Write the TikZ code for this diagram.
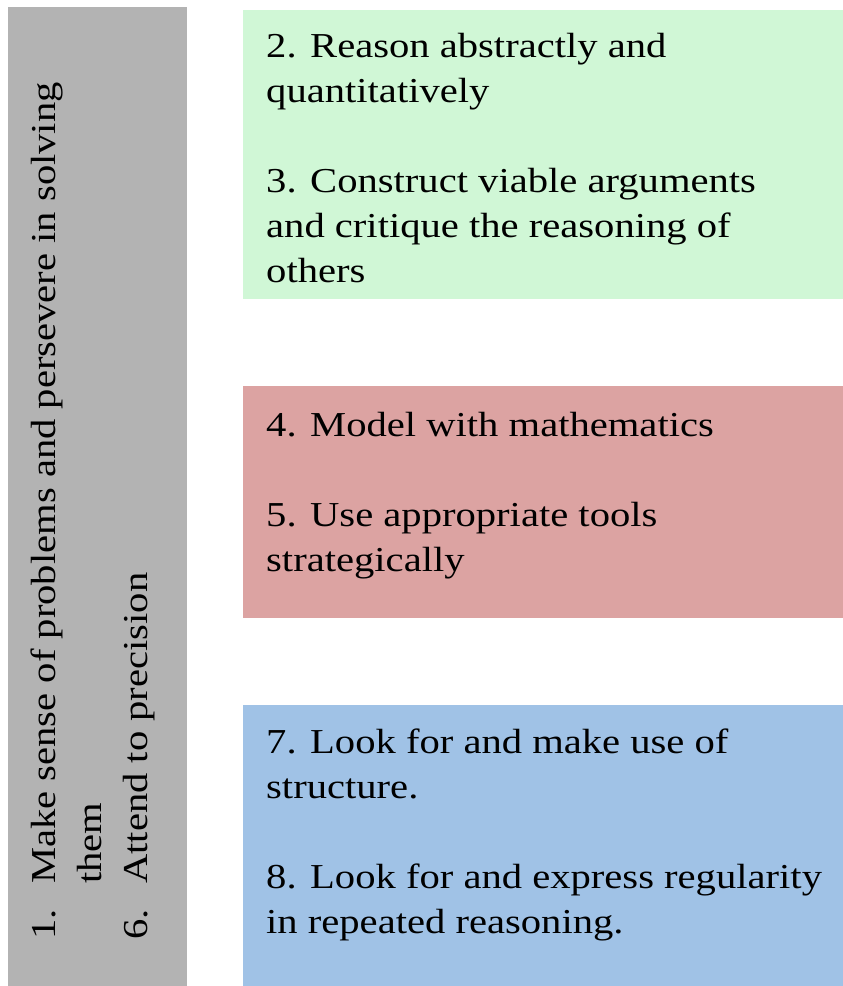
\documentclass[tikz,border=0pt]{standalone}
\usepackage{fontspec}
\setmainfont{Liberation Serif}[FakeStretch=1.16]
\definecolor{boxgray}{RGB}{179,179,179}
\definecolor{boxgreen}{RGB}{208,247,214}
\definecolor{boxred}{RGB}{220,163,162}
\definecolor{boxblue}{RGB}{160,194,230}
\tikzset{
  panel/.style={draw=none},
  txt/.style={anchor=base west, inner sep=0pt, font=\fontsize{35}{45}\selectfont, text=black},
  rtxt/.style={txt, rotate=90}
}
\begin{document}
\begin{tikzpicture}[x=1pt,y=-1pt]
\useasboundingbox[fill=white] (0,0) rectangle (843,986);
% panels
\fill[boxgray]  (7.5,7) rectangle (187,986);
\fill[boxgreen] (243,9.5) rectangle (843,299);
\fill[boxred]   (243,386) rectangle (843,618);
\fill[boxblue]  (243,705) rectangle (843,986);
% rotated text in gray panel
\node[rtxt] (n1)  at (55,940)  {1.};
\node[rtxt] (t1)  at (55,884)  {Make sense of problems and persevere in solving};
\node[rtxt] (t1b) at (101,884) {them};
\node[rtxt] (n6)  at (147,940) {6.};
\node[rtxt] (t6)  at (147,884) {Attend to precision};
% green panel
\node[txt] (g1) at (266,57)  {2. Reason abstractly and};
\node[txt] (g2) at (266,102) {quantitatively};
\node[txt] (g3) at (266,192) {3. Construct viable arguments};
\node[txt] (g4) at (266,237) {and critique the reasoning of};
\node[txt] (g5) at (266,282) {others};
% red panel
\node[txt] (r1) at (266,436) {4. Model with mathematics};
\node[txt] (r2) at (266,526) {5. Use appropriate tools};
\node[txt] (r3) at (266,571) {strategically};
% blue panel
\node[txt] (b1) at (266,753) {7. Look for and make use of};
\node[txt] (b2) at (266,798) {structure.};
\node[txt] (b3) at (266,888) {8. Look for and express regularity};
\node[txt] (b4) at (266,933) {in repeated reasoning.};
\end{tikzpicture}
\end{document}
